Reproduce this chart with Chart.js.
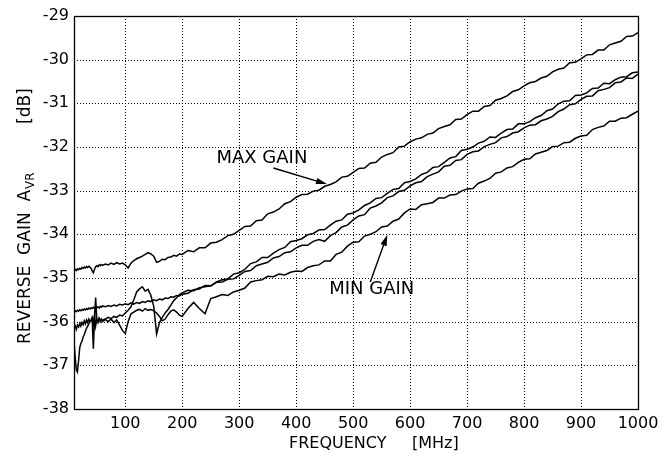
<!DOCTYPE html>
<html>
<head>
<meta charset="utf-8">
<script src="https://cdn.jsdelivr.net/npm/chart.js@4/dist/chart.umd.min.js"></script>
<style>
html,body{margin:0;padding:0;background:#fff;}
#wrap{width:669px;height:454px;}
</style>
</head>
<body>
<div id="wrap"><canvas id="c" width="669" height="454"></canvas></div>
<script>
// ---- data ----
const freqMHz = [
10,12,14,16,18,20,22,24,26,28,30,32,34,36,38,40,42,44,46,48,50,52,54,56,58,60,
65,70,75,80,85,90,95,100,105,110,115,120,125,130,135,140,145,150,155,160,165,170,175,180,185,190,195,200,
210,220,230,240,250,260,270,280,290,300,310,320,330,340,350,360,370,380,390,400,
410,420,430,440,450,460,470,480,490,500,510,520,530,540,550,560,570,580,590,600,
610,620,630,640,650,660,670,680,690,700,710,720,730,740,750,760,770,780,790,800,
810,820,830,840,850,860,870,880,890,900,910,920,930,940,950,960,970,980,990,1000];

const gainMax = [
-34.82,-34.80,-34.83,-34.79,-34.81,-34.78,-34.80,-34.76,-34.78,-34.75,-34.77,-34.74,-34.76,-34.73,-34.75,-34.78,-34.84,-34.88,-34.80,-34.74,-34.72,-34.74,-34.70,-34.72,-34.69,-34.71,
-34.68,-34.70,-34.66,-34.69,-34.65,-34.68,-34.66,-34.70,-34.77,-34.66,-34.60,-34.56,-34.53,-34.50,-34.46,-34.42,-34.45,-34.50,-34.64,-34.62,-34.57,-34.58,-34.53,-34.52,-34.48,-34.50,-34.45,-34.46,
-34.37,-34.40,-34.31,-34.31,-34.20,-34.18,-34.12,-34.03,-34.00,-33.91,
-33.82,-33.81,-33.69,-33.67,-33.53,-33.49,-33.42,-33.30,-33.25,-33.15,
-33.09,-33.08,-33.01,-32.99,-32.90,-32.86,-32.80,-32.69,-32.67,-32.58,
-32.49,-32.48,-32.37,-32.35,-32.23,-32.17,-32.13,-32.00,-31.98,-31.88,
-31.82,-31.79,-31.71,-31.68,-31.58,-31.53,-31.49,-31.37,-31.36,-31.26,
-31.18,-31.18,-31.07,-31.05,-30.93,-30.89,-30.83,-30.73,-30.69,-30.60,
-30.53,-30.50,-30.42,-30.38,-30.28,-30.22,-30.19,-30.07,-30.06,-29.98,
-29.89,-29.88,-29.78,-29.78,-29.66,-29.62,-29.58,-29.47,-29.46,-29.38];

const gainMidHigh = [
-35.78,-35.75,-35.77,-35.74,-35.76,-35.73,-35.75,-35.72,-35.74,-35.71,-35.73,-35.70,-35.72,-35.69,-35.71,-35.68,-35.70,-35.67,-35.69,-35.66,-35.68,-35.66,-35.69,-35.65,-35.67,-35.64,
-35.66,-35.63,-35.65,-35.62,-35.64,-35.60,-35.62,-35.59,-35.61,-35.57,-35.60,-35.56,-35.58,-35.54,-35.56,-35.52,-35.54,-35.50,-35.52,-35.48,-35.50,-35.46,-35.47,-35.43,-35.44,-35.40,-35.41,-35.37,
-35.35,-35.27,-35.25,-35.17,-35.18,-35.09,-35.04,-35.02,-34.91,-34.88,
-34.80,-34.67,-34.63,-34.53,-34.53,-34.43,-34.35,-34.30,-34.17,-34.14,
-34.10,-34.01,-33.98,-33.90,-33.89,-33.79,-33.70,-33.67,-33.54,-33.51,
-33.44,-33.34,-33.28,-33.18,-33.16,-33.06,-32.97,-32.95,-32.82,-32.79,
-32.73,-32.63,-32.58,-32.47,-32.45,-32.35,-32.25,-32.22,-32.08,-32.05,
-32.00,-31.91,-31.87,-31.77,-31.78,-31.68,-31.60,-31.59,-31.47,-31.47,
-31.42,-31.33,-31.28,-31.17,-31.13,-31.01,-30.95,-30.94,-30.82,-30.81,
-30.76,-30.66,-30.65,-30.54,-30.55,-30.46,-30.40,-30.39,-30.30,-30.28];

const gainMidLow = [
-36.45,-36.80,-37.10,-37.15,-36.90,-36.60,-36.50,-36.45,-36.35,-36.30,-36.22,-36.15,-36.10,-36.05,-36.00,-35.98,-35.95,-36.62,-35.92,-35.45,-35.95,-35.98,-35.93,-36.00,-35.94,-35.97,
-35.94,-35.90,-35.93,-35.88,-35.90,-35.85,-35.87,-35.80,-35.74,-35.66,-35.50,-35.32,-35.25,-35.20,-35.30,-35.26,-35.40,-35.65,-36.28,-36.02,-35.90,-35.80,-35.72,-35.62,-35.52,-35.45,-35.38,-35.34,
-35.28,-35.29,-35.22,-35.20,-35.18,-35.10,-35.09,-35.03,-35.02,-34.94,
-34.85,-34.83,-34.72,-34.68,-34.64,-34.54,-34.51,-34.42,-34.40,-34.31,
-34.25,-34.25,-34.16,-34.12,-34.16,-34.03,-33.96,-33.83,-33.79,-33.67,
-33.58,-33.55,-33.40,-33.35,-33.28,-33.16,-33.12,-33.02,-32.99,-32.89,
-32.82,-32.79,-32.68,-32.62,-32.57,-32.44,-32.42,-32.31,-32.29,-32.17,
-32.11,-32.09,-31.99,-31.94,-31.90,-31.79,-31.76,-31.68,-31.65,-31.56,
-31.50,-31.49,-31.40,-31.36,-31.30,-31.19,-31.13,-31.03,-31.01,-30.91,
-30.84,-30.83,-30.71,-30.68,-30.64,-30.53,-30.51,-30.42,-30.43,-30.33];

const gainMin = [
-36.15,-36.10,-36.18,-36.08,-36.12,-36.04,-36.10,-36.02,-36.07,-35.98,-36.05,-35.96,-36.02,-35.94,-36.00,-35.96,-35.90,-36.05,-35.85,-36.10,-35.95,-36.02,-35.92,-35.98,-35.94,-36.00,
-35.95,-36.00,-35.94,-36.02,-35.96,-36.08,-36.20,-36.27,-36.00,-35.82,-35.78,-35.74,-35.72,-35.76,-35.70,-35.74,-35.72,-35.75,-35.80,-35.88,-35.98,-35.94,-35.84,-35.76,-35.73,-35.78,-35.85,-35.88,
-35.70,-35.56,-35.70,-35.82,-35.47,-35.43,-35.38,-35.40,-35.32,-35.28,
-35.23,-35.09,-35.06,-35.04,-34.96,-34.97,-34.91,-34.93,-34.87,-34.84,
-34.85,-34.76,-34.72,-34.70,-34.61,-34.61,-34.46,-34.41,-34.27,-34.18,
-34.17,-34.04,-34.00,-33.94,-33.83,-33.81,-33.70,-33.65,-33.51,-33.42,
-33.43,-33.32,-33.30,-33.27,-33.17,-33.17,-33.10,-33.09,-33.01,-32.96,
-32.95,-32.83,-32.78,-32.72,-32.60,-32.57,-32.48,-32.45,-32.35,-32.28,
-32.27,-32.16,-32.12,-32.08,-31.99,-31.98,-31.90,-31.89,-31.80,-31.75,
-31.73,-31.60,-31.55,-31.52,-31.41,-31.41,-31.34,-31.33,-31.25,-31.18];

const xTickValues = [100,200,300,400,500,600,700,800,900,1000];
const yTickValues = [-38,-37,-36,-35,-34,-33,-32,-31,-30,-29];

// annotation anchors in data units (MHz, dB)
const maxLabel = {text:'MAX GAIN', x:260, y:-32.27, tailX:360, tailY:-32.48, tipX:454, tipY:-32.85};
const minLabel = {text:'MIN GAIN', x:458, y:-35.25, tailX:530, tailY:-35.09, tipX:560, tipY:-34.01};

const FONT = '"DejaVu Sans", "Liberation Sans", sans-serif';

function series(vals){ return freqMHz.map((f,i)=>({x:f, y:vals[i]})); }

function arrow(ctx, x1, y1, x2, y2){
  const ang = Math.atan2(y2-y1, x2-x1);
  const L = 11, W = 3.2;
  ctx.beginPath(); ctx.moveTo(x1,y1);
  ctx.lineTo(x2 - L*0.8*Math.cos(ang), y2 - L*0.8*Math.sin(ang)); ctx.stroke();
  ctx.beginPath();
  ctx.moveTo(x2,y2);
  ctx.lineTo(x2 - L*Math.cos(ang) + W*Math.sin(ang), y2 - L*Math.sin(ang) - W*Math.cos(ang));
  ctx.lineTo(x2 - L*Math.cos(ang) - W*Math.sin(ang), y2 - L*Math.sin(ang) + W*Math.cos(ang));
  ctx.closePath(); ctx.fill();
}

const decor = {
  id:'decor',
  beforeDraw(chart){
    const ctx = chart.ctx;
    ctx.save(); ctx.fillStyle='#fff'; ctx.fillRect(0,0,chart.width,chart.height); ctx.restore();
  },
  beforeDatasetsDraw(chart){
    // dotted grid at the library's tick positions
    const {ctx, chartArea:a, scales:{x,y}} = chart;
    ctx.save();
    ctx.strokeStyle='#000'; ctx.lineWidth=1; ctx.setLineDash([1,2]);
    for (const t of x.ticks){
      const px = Math.round(x.getPixelForValue(t.value)) + 0.5;
      ctx.beginPath(); ctx.moveTo(px, a.top); ctx.lineTo(px, a.bottom); ctx.stroke();
    }
    for (const t of y.ticks){
      const py = Math.round(y.getPixelForValue(t.value)) + 0.5;
      ctx.beginPath(); ctx.moveTo(a.left, py); ctx.lineTo(a.right, py); ctx.stroke();
    }
    ctx.restore();
  },
  afterDraw(chart){
    const {ctx, chartArea:a, scales:{x,y}} = chart;
    ctx.save();
    ctx.strokeStyle='#000'; ctx.fillStyle='#000'; ctx.lineWidth=1.3;
    ctx.strokeRect(Math.round(a.left)+0.5, Math.round(a.top)+0.5, Math.round(a.right-a.left), Math.round(a.bottom-a.top));

    // annotations
    ctx.font = '18px ' + FONT; ctx.textBaseline='middle'; ctx.textAlign='left';
    for (const L of [maxLabel, minLabel]){
      ctx.fillText(L.text, x.getPixelForValue(L.x), y.getPixelForValue(L.y));
      ctx.lineWidth=1.4;
      arrow(ctx, x.getPixelForValue(L.tailX), y.getPixelForValue(L.tailY), x.getPixelForValue(L.tipX), y.getPixelForValue(L.tipY));
    }

    // x-axis title
    ctx.font = '16px ' + FONT; ctx.textBaseline='alphabetic';
    ctx.fillText('FREQUENCY', 289, 448);
    ctx.fillText('[MHz]', 412, 448);

    // y-axis title (rotated) with subscript
    ctx.translate(30, 344); ctx.rotate(-Math.PI/2);
    ctx.font = '17px ' + FONT; ctx.textBaseline='alphabetic';
    const s1 = 'REVERSE  GAIN  A';
    ctx.fillText(s1, 0, 0);
    const w1 = ctx.measureText(s1).width;
    ctx.font = '12px ' + FONT;
    ctx.fillText('VR', w1 + 1, 4);
    ctx.font = '17px ' + FONT;
    ctx.fillText('[dB]', 220, 0);
    ctx.restore();
  }
};

const ds = (vals) => ({data:series(vals), borderColor:'#000', borderWidth:1.5, pointRadius:0, fill:false, tension:0});

new Chart(document.getElementById('c'), {
  type:'line',
  data:{datasets:[ds(gainMax), ds(gainMidHigh), ds(gainMidLow), ds(gainMin)]},
  options:{
    responsive:false, animation:false, devicePixelRatio:1,
    layout:{padding:{left:0, right:31, top:16, bottom:0}},
    plugins:{legend:{display:false}, tooltip:{enabled:false}, title:{display:false}},
    scales:{
      x:{
        type:'linear', min:10, max:1000,
        afterBuildTicks(s){ s.ticks = xTickValues.map(v=>({value:v})); },
        afterFit(s){ s.height = 45; },
        ticks:{font:{family:FONT, size:16}, color:'#000', padding:5, maxRotation:0, autoSkip:false, callback:(v)=>String(v)},
        grid:{display:false, drawTicks:false},
        border:{display:false}
      },
      y:{
        type:'linear', min:-38, max:-29,
        afterBuildTicks(s){ s.ticks = yTickValues.map(v=>({value:v})); },
        afterFit(s){ s.width = 74; },
        ticks:{font:{family:FONT, size:16}, color:'#000', padding:5, autoSkip:false, callback:(v)=>String(v)},
        grid:{display:false, drawTicks:false},
        border:{display:false}
      }
    }
  },
  plugins:[decor]
});
</script>
</body>
</html>
